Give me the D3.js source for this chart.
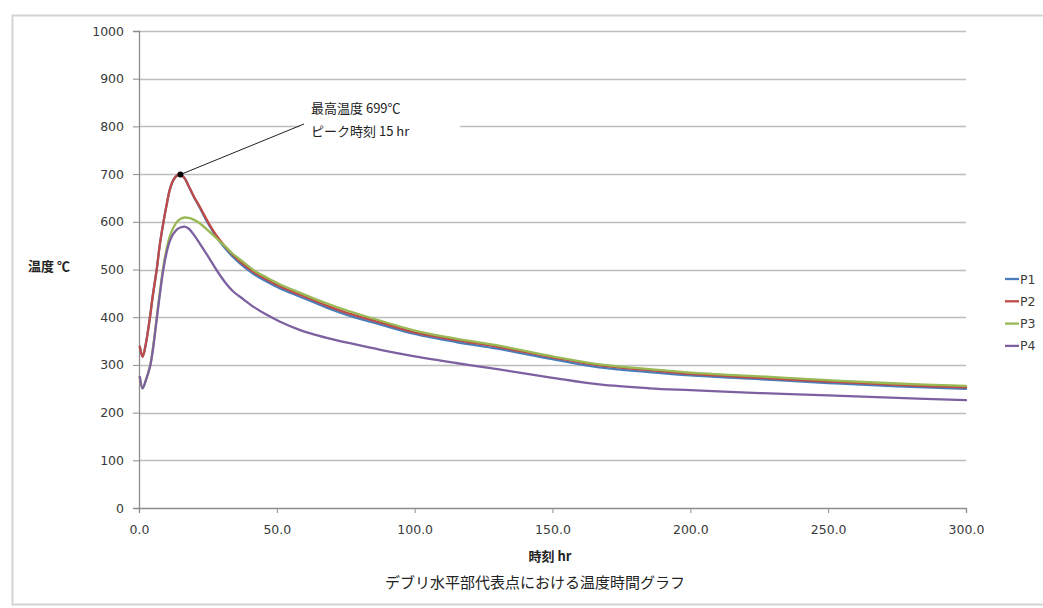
<!DOCTYPE html>
<html><head><meta charset="utf-8">
<script src="https://cdn.jsdelivr.net/npm/d3@7"></script>
<style>body{margin:0;background:#fff}svg{display:block}</style>
</head><body>
<svg id="chart" width="1043" height="608"></svg>
<script>
// ---- data ----
const timeHr = [0.3, 1.3, 2.5, 4, 5, 6.4, 7.5, 8.8, 10, 11.2, 12.5, 13.8, 15, 16.5, 18, 20, 22, 25, 28, 31, 34, 38, 42, 46, 51, 58, 64, 70, 76, 88, 100, 115, 130, 150, 167, 185, 200, 225, 250, 275, 300];
const p1 = [338, 317, 345, 401, 445, 499, 550, 597, 635, 668, 688, 697, 699, 692, 675, 651, 630, 597, 569, 546, 527, 506, 489, 476, 461, 444, 430, 416, 404, 384, 365, 348, 334, 312, 295, 285, 278, 270, 262, 255, 250];
const p2 = [338, 317, 345, 401, 445, 499, 550, 597, 635, 668, 688, 697, 699, 692, 675, 652, 632, 600, 572, 550, 531, 510, 493, 480, 465, 448, 434, 420, 408, 388, 368, 352, 338, 316, 299, 289, 281, 273, 265, 258, 253];
const p3 = [275, 251, 268, 298, 333, 398, 450, 505, 543, 570, 588, 600, 606, 609, 608, 604, 597, 582, 566, 550, 533, 515, 497, 484, 469, 452, 438, 425, 413, 392, 372, 355, 341, 318, 301, 291, 284, 276, 268, 261, 256];
const p4 = [275, 251, 268, 296, 330, 394, 445, 499, 535, 560, 575, 584, 588, 590, 586, 572, 555, 528, 500, 475, 455, 437, 420, 406, 391, 374, 363, 354, 346, 331, 318, 304, 291, 273, 259, 251, 247, 241, 236, 231, 226];
const seriesNames = ["P1", "P2", "P3", "P4"];
const seriesColors = ["#4A7EBB", "#BE4B48", "#98B954", "#7D60A0"];
const yTicks = [0, 100, 200, 300, 400, 500, 600, 700, 800, 900, 1000];
const xTicks = [0, 50, 100, 150, 200, 250, 300];
const peakTime = 15, peakTemp = 699;
const annotationLines = ["最高温度 699℃", "ピーク時刻 15 hr"];
const xTitle = "時刻 hr";
const yTitle = "温度 ℃";
const chartTitle = "デブリ水平部代表点における温度時間グラフ";

// ---- drawing ----
const svg = d3.select("#chart");
const numFont = "'DejaVu Sans', sans-serif";
const jpFont = "'Noto Sans CJK JP', sans-serif";

svg.append("rect").attr("x", 12.5).attr("y", 15.5).attr("width", 1040).attr("height", 589)
  .attr("fill", "#fff").attr("stroke", "#D4D4D4").attr("stroke-width", 2);

const x = d3.scaleLinear().domain([0, 300]).range([139, 966]);
const y = d3.scaleLinear().domain([0, 1000]).range([508, 31]);

// gridlines
svg.append("g").selectAll("line").data(yTicks.filter(d => d > 0)).join("line")
  .attr("x1", x(0)).attr("x2", x(300))
  .attr("y1", d => Math.round(y(d)) + 0.5).attr("y2", d => Math.round(y(d)) + 0.5)
  .attr("stroke", "#BDBDBD").attr("stroke-width", 1.3);

// y axis
const yAxis = svg.append("g").attr("transform", `translate(${x(0)},0)`)
  .call(d3.axisLeft(y).tickValues(yTicks).tickFormat(d3.format("d")).tickSize(6).tickPadding(9));
yAxis.select(".domain").attr("stroke", "#8C8C8C").attr("stroke-width", 1.3);
yAxis.selectAll(".tick line").attr("stroke", "#8C8C8C");
yAxis.selectAll("text").attr("font-family", numFont).attr("font-size", 12.5).attr("fill", "#3a3a3a");

// x axis
const xAxis = svg.append("g").attr("transform", `translate(0,${y(0)})`)
  .call(d3.axisBottom(x).tickValues(xTicks).tickFormat(d3.format(".1f")).tickSize(5).tickPadding(12));
xAxis.select(".domain").attr("stroke", "#8C8C8C").attr("stroke-width", 1.3);
xAxis.selectAll(".tick line").attr("stroke", "#8C8C8C");
xAxis.selectAll("text").attr("font-family", numFont).attr("font-size", 12.5).attr("fill", "#3a3a3a");

// series
const allSeries = [p1, p2, p3, p4];
const line = d3.line().x(d => x(d[0])).y(d => y(d[1])).curve(d3.curveCatmullRom.alpha(0.5));
allSeries.forEach((vals, i) => {
  svg.append("path").datum(timeHr.map((t, j) => [t, vals[j]]))
    .attr("d", line).attr("fill", "none")
    .attr("stroke", seriesColors[i]).attr("stroke-width", 2.3)
    .attr("stroke-linejoin", "round").attr("stroke-linecap", "round");
});

// annotation
svg.append("rect").attr("x", 300).attr("y", 96).attr("width", 160).attr("height", 46).attr("fill", "#fff");
svg.append("line").attr("x1", x(peakTime)).attr("y1", y(peakTemp)).attr("x2", 304).attr("y2", 124)
  .attr("stroke", "#222").attr("stroke-width", 1);
svg.append("circle").attr("cx", x(peakTime)).attr("cy", y(peakTemp)).attr("r", 3).attr("fill", "#000");
svg.append("g").selectAll("text").data(annotationLines).join("text")
  .attr("x", 311).attr("y", (d, i) => 113 + i * 23)
  .attr("font-family", jpFont).attr("font-size", 13).attr("fill", "#222").text(d => d);

// axis titles
svg.append("text").attr("x", 550).attr("y", 561).attr("text-anchor", "middle")
  .attr("font-family", jpFont).attr("font-size", 13).attr("font-weight", "bold").attr("fill", "#222").text(xTitle);
svg.append("text").attr("x", 28).attr("y", 271)
  .attr("font-family", jpFont).attr("font-size", 13).attr("font-weight", "bold").attr("fill", "#222").text(yTitle);
svg.append("text").attr("x", 535).attr("y", 588).attr("text-anchor", "middle")
  .attr("font-family", jpFont).attr("font-size", 15).attr("fill", "#222").text(chartTitle);

// legend
const lg = svg.append("g");
seriesNames.forEach((name, i) => {
  const ly = 279 + i * 22.3;
  lg.append("line").attr("x1", 1005).attr("x2", 1019).attr("y1", ly).attr("y2", ly)
    .attr("stroke", seriesColors[i]).attr("stroke-width", 2.3);
  lg.append("text").attr("x", 1020).attr("y", ly + 4.5)
    .attr("font-family", numFont).attr("font-size", 12.5).attr("fill", "#3a3a3a").text(name);
});
</script>
</body></html>
